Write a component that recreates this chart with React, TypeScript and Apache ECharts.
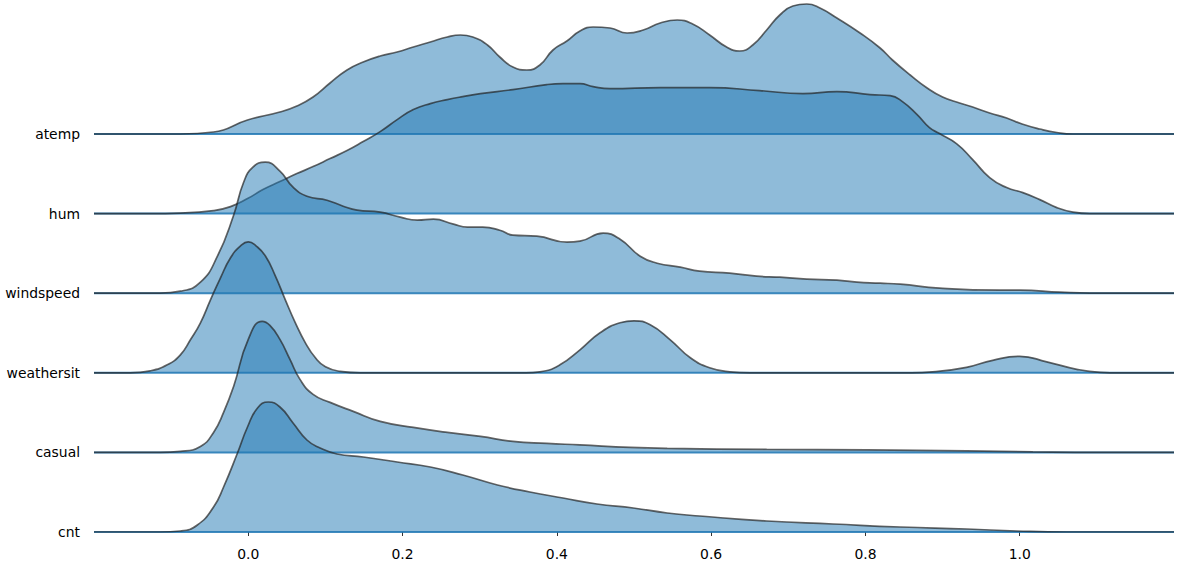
import React, { useEffect, useRef } from "react";
import * as echarts from "echarts";

// Ridge names, top to bottom
const ridgeNames = ["atemp", "hum", "windspeed", "weathersit", "casual", "cnt"];
const xTickValues = [0, 0.2, 0.4, 0.6, 0.8, 1.0];
const X_MIN = -0.2;
const X_MAX = 1.2;

// Kernel density estimates, [x, relative density]
const atempDensity: [number, number][] = [
  [-0.2, 0], [-0.088, 0], [-0.045, 2], [-0.001, 14], [0.041, 22], [0.063, 28], [0.084, 37],
  [0.106, 51], [0.128, 64], [0.149, 72], [0.171, 78], [0.193, 82], [0.214, 87], [0.236, 92],
  [0.258, 97], [0.275, 99], [0.291, 97], [0.31, 89], [0.326, 77], [0.343, 67], [0.361, 64],
  [0.378, 69], [0.395, 84], [0.413, 93], [0.43, 103], [0.447, 107], [0.469, 106], [0.491, 101],
  [0.512, 104], [0.534, 111], [0.556, 114], [0.576, 110], [0.598, 99], [0.62, 87], [0.637, 83],
  [0.654, 89], [0.672, 104], [0.689, 119], [0.706, 128], [0.724, 130], [0.741, 126], [0.763, 116],
  [0.793, 101], [0.819, 86], [0.835, 74], [0.858, 59], [0.88, 46], [0.9, 37], [0.922, 31],
  [0.939, 27], [0.961, 21], [0.983, 16], [1.003, 10], [1.026, 5], [1.048, 1.5], [1.069, 0], [1.2, 0],
];
const humDensity: [number, number][] = [
  [-0.2, 0], [-0.127, 0], [-0.088, 0.5], [-0.045, 3], [-0.023, 7], [-0.001, 15], [0.019, 24],
  [0.041, 32], [0.063, 40], [0.084, 47], [0.106, 55], [0.128, 63], [0.149, 72], [0.171, 82],
  [0.193, 94], [0.214, 104], [0.236, 110], [0.258, 114], [0.278, 117], [0.301, 120], [0.343, 124],
  [0.387, 129], [0.408, 130], [0.43, 130], [0.447, 127], [0.469, 125], [0.534, 126], [0.598, 126],
  [0.663, 123], [0.719, 120], [0.763, 122], [0.806, 119], [0.832, 118], [0.848, 112], [0.867, 99],
  [0.883, 86], [0.896, 80], [0.918, 70], [0.939, 54], [0.961, 36], [0.983, 26], [1.004, 21],
  [1.026, 14], [1.048, 6], [1.069, 1.5], [1.091, 0], [1.2, 0],
];
const windspeedDensity: [number, number][] = [
  [-0.2, 0], [-0.114, 0], [-0.088, 2], [-0.062, 11], [-0.04, 37], [-0.019, 78], [-0.006, 111],
  [0.006, 126], [0.022, 131], [0.041, 122], [0.058, 106], [0.076, 97], [0.102, 93], [0.123, 87],
  [0.141, 83], [0.171, 81], [0.197, 76], [0.219, 73], [0.24, 74], [0.266, 69], [0.284, 66],
  [0.304, 66], [0.326, 63], [0.343, 58], [0.374, 57], [0.413, 51], [0.43, 52], [0.46, 60],
  [0.482, 54], [0.508, 37], [0.53, 30], [0.56, 26], [0.585, 22], [0.624, 20], [0.659, 17],
  [0.689, 16], [0.724, 14], [0.763, 13], [0.789, 11], [0.819, 10], [0.845, 9], [0.896, 5],
  [0.974, 3], [1.0, 3], [1.052, 1], [1.091, 0], [1.2, 0],
];
const weathersitDensity: [number, number][] = [
  [-0.2, 0], [-0.153, 0], [-0.127, 2], [-0.105, 8], [-0.088, 18], [-0.075, 33], [-0.062, 50],
  [-0.049, 73], [-0.036, 95], [-0.023, 115], [-0.01, 127], [0, 131], [0.01, 127], [0.022, 117],
  [0.035, 97], [0.048, 73], [0.061, 50], [0.074, 30], [0.087, 15], [0.1, 6], [0.119, 1.5],
  [0.145, 0], [0.36, 0], [0.378, 1], [0.404, 8], [0.43, 23], [0.456, 40], [0.482, 50], [0.5, 52],
  [0.521, 48], [0.547, 33], [0.573, 15], [0.598, 5], [0.624, 1], [0.65, 0], [0.86, 0], [0.887, 1],
  [0.931, 5.5], [0.965, 12.5], [1.0, 16.5], [1.035, 11], [1.074, 3.5], [1.104, 0.5], [1.13, 0], [1.2, 0],
];
const casualDensity: [number, number][] = [
  [-0.2, 0], [-0.114, 0], [-0.088, 1], [-0.062, 6], [-0.045, 20], [-0.032, 40], [-0.019, 66],
  [0, 113], [0.018, 131], [0.028, 127], [0.041, 113], [0.054, 93], [0.067, 73], [0.084, 58],
  [0.106, 50], [0.136, 41], [0.171, 31], [0.214, 25], [0.258, 20], [0.301, 16], [0.343, 11],
  [0.387, 9], [0.43, 7.5], [0.495, 5], [0.543, 4], [0.672, 3], [0.802, 2.5], [0.931, 1.5],
  [1.017, 0.5], [1.104, 0], [1.2, 0],
];
const cntDensity: [number, number][] = [
  [-0.2, 0], [-0.114, 0], [-0.088, 1], [-0.066, 7], [-0.045, 25], [-0.032, 45], [-0.014, 79],
  [-0.001, 105], [0.012, 124], [0.026, 130], [0.041, 125], [0.058, 109], [0.076, 92], [0.093, 84],
  [0.115, 78], [0.149, 75], [0.193, 70], [0.236, 65], [0.278, 57], [0.323, 47], [0.365, 40],
  [0.408, 34], [0.452, 28], [0.499, 24], [0.543, 19], [0.585, 16], [0.672, 11], [0.758, 8],
  [0.845, 5], [0.931, 3], [0.996, 1], [1.061, 0], [1.2, 0],
];

const densities = [atempDensity, humDensity, windspeedDensity, weathersitDensity, casualDensity, cntDensity];

const HEIGHT_SCALE = 1 / 79.6; // relative density -> row units
const Y_MAX = 532 / 79.6;

export default function App() {
  const ref = useRef<HTMLDivElement>(null);

  useEffect(() => {
    document.body.style.margin = "0";
    const chart = echarts.init(ref.current!, null, { renderer: "svg" });
    const n = ridgeNames.length;
    const series: any[] = [];
    ridgeNames.forEach((name, i) => {
      const row = n - 1 - i;
      series.push({
        type: "line",
        name: name + "-baseline",
        data: [[X_MIN, row], [X_MAX, row]],
        symbol: "none",
        silent: true,
        lineStyle: { color: "rgba(31,119,180,0.85)", width: 2 },
        z: 2 + i * 2,
      });
      series.push({
        type: "line",
        name,
        data: densities[i].map(([x, h]) => [x, row + h * HEIGHT_SCALE]),
        smooth: 0.5,
        symbol: "none",
        silent: true,
        lineStyle: { color: "rgba(35,35,35,0.7)", width: 1.7 },
        areaStyle: { origin: row, color: "#1f77b4", opacity: 0.5 },
        z: 3 + i * 2,
      });
    });

    chart.setOption({
      animation: false,
      grid: { left: 94, right: 4, top: 0, bottom: 40 },
      xAxis: {
        type: "value",
        min: X_MIN,
        max: X_MAX,
        offset: 8,
        axisLine: { show: false },
        splitLine: { show: false },
        axisTick: { show: true, customValues: xTickValues, length: 4, lineStyle: { color: "#333", width: 1 } },
        axisLabel: {
          customValues: xTickValues,
          formatter: (v: number) => v.toFixed(1),
          color: "#000",
          fontSize: 13.9,
          fontFamily: "DejaVu Sans",
          margin: 7,
        },
      },
      yAxis: {
        type: "value",
        min: 0,
        max: Y_MAX,
        axisLine: { show: false },
        axisTick: { show: false },
        splitLine: { show: false },
        axisLabel: {
          customValues: [0, 1, 2, 3, 4, 5],
          formatter: (v: number) => ridgeNames[n - 1 - Math.round(v)],
          color: "#000",
          fontSize: 13.9,
          fontFamily: "DejaVu Sans",
          margin: 14,
        },
      },
      series,
    });
    return () => chart.dispose();
  }, []);

  return <div ref={ref} style={{ width: 1178, height: 572 }} />;
}
